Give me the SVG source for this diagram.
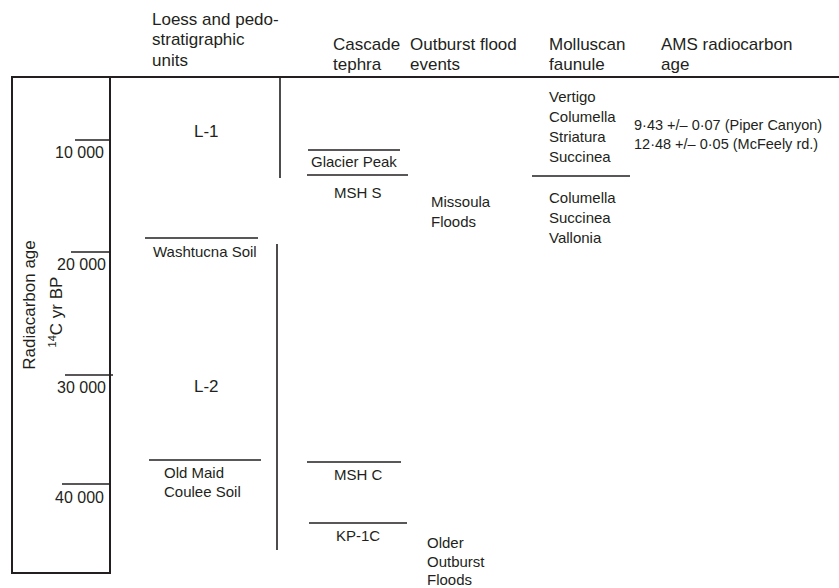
<svg xmlns="http://www.w3.org/2000/svg" width="839" height="588" viewBox="0 0 839 588">
<style>
text{font-family:"Liberation Sans",Arial,sans-serif;fill:#231f20}
.h{font-size:17px}
.t{font-size:15px}
.n{font-size:16px}
.s{font-size:14.5px}
.l{stroke:#231f20;stroke-width:1.6;fill:none}
.b{stroke:#231f20;stroke-width:2;fill:none}
</style>
<rect width="839" height="588" fill="#fff"/>
<g id="headers" class="h">
<text x="152" y="25">Loess and pedo-</text>
<text x="152" y="45">stratigraphic</text>
<text x="152" y="66">units</text>
<text x="333" y="50">Cascade</text>
<text x="333" y="70">tephra</text>
<text x="410" y="50">Outburst flood</text>
<text x="410" y="70">events</text>
<text x="549" y="50">Molluscan</text>
<text x="549" y="70">faunule</text>
<text x="661" y="50">AMS radiocarbon</text>
<text x="661" y="70">age</text>
</g>
<g id="axis">
<rect class="b" x="12" y="77" width="98" height="496"/>
<line class="b" x1="12" y1="77" x2="839" y2="77"/>
<line class="l" x1="75" y1="140" x2="110" y2="140"/>
<line class="l" x1="71" y1="252" x2="110" y2="252"/>
<line class="l" x1="65" y1="375" x2="113" y2="375"/>
<line class="l" x1="62" y1="484" x2="109" y2="484"/>
<g class="n" text-anchor="end">
<text x="104" y="158">10 000</text>
<text x="106" y="270">20 000</text>
<text x="106" y="393">30 000</text>
<text x="104" y="503">40 000</text>
</g>
<text class="h" transform="translate(35,305) rotate(-90)" text-anchor="middle">Radiacarbon age</text>
<text class="h" transform="translate(62,312) rotate(-90)" text-anchor="middle"><tspan font-size="11" dy="-6">14</tspan><tspan dy="6">C yr BP</tspan></text>
</g>
<g id="loess">
<text class="h" x="194" y="137" font-size="17.5">L-1</text>
<line class="l" x1="280" y1="77" x2="280" y2="178"/>
<line class="l" x1="145" y1="238" x2="258" y2="238"/>
<text class="t" x="153" y="257">Washtucna Soil</text>
<line class="l" x1="277" y1="244" x2="277" y2="550"/>
<text class="h" x="194" y="392" font-size="17.5">L-2</text>
<line class="l" x1="149" y1="460" x2="261" y2="460"/>
<text class="t" x="164" y="478">Old Maid</text>
<text class="t" x="164" y="497">Coulee Soil</text>
</g>
<g id="tephra">
<line class="l" x1="308" y1="150" x2="400" y2="150"/>
<text class="t" x="311" y="167">Glacier Peak</text>
<line class="l" x1="307" y1="175" x2="408" y2="175"/>
<text class="t" x="334" y="198">MSH S</text>
<line class="l" x1="307" y1="462" x2="401" y2="462"/>
<text class="t" x="334" y="480">MSH C</text>
<line class="l" x1="309" y1="523" x2="407" y2="523"/>
<text class="t" x="336" y="541">KP-1C</text>
</g>
<g id="floods" class="t">
<text x="431" y="207">Missoula</text>
<text x="431" y="227">Floods</text>
<text x="427" y="548">Older</text>
<text x="427" y="567">Outburst</text>
<text x="427" y="585">Floods</text>
</g>
<g id="mollusc" class="t">
<text x="549" y="102">Vertigo</text>
<text x="549" y="122">Columella</text>
<text x="549" y="142">Striatura</text>
<text x="549" y="162">Succinea</text>
<line class="l" x1="532" y1="176" x2="630" y2="176"/>
<text x="549" y="203">Columella</text>
<text x="549" y="223">Succinea</text>
<text x="549" y="243">Vallonia</text>
</g>
<g id="ams" class="s">
<text x="634" y="130">9·43 +/– 0·07 (Piper Canyon)</text>
<text x="634" y="149">12·48 +/– 0·05 (McFeely rd.)</text>
</g>
</svg>
